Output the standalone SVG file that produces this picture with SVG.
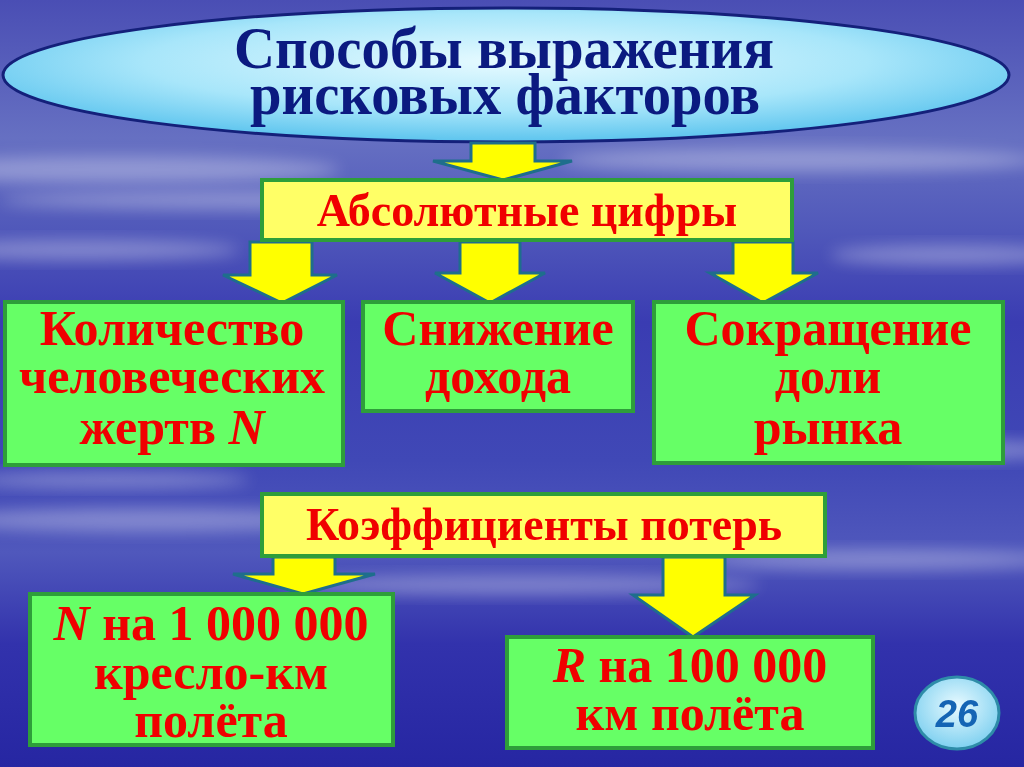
<svg xmlns="http://www.w3.org/2000/svg" width="1024" height="767" viewBox="0 0 1024 767">
<defs>
<linearGradient id="bg" x1="0" y1="0" x2="0" y2="1">
<stop offset="0" stop-color="#4A4EB4"/>
<stop offset="0.18" stop-color="#6670C2"/>
<stop offset="0.3" stop-color="#5058BA"/>
<stop offset="0.42" stop-color="#3A3CB2"/>
<stop offset="0.6" stop-color="#4048B6"/>
<stop offset="0.72" stop-color="#5058BC"/>
<stop offset="0.84" stop-color="#3232AC"/>
<stop offset="1" stop-color="#2626A2"/>
</linearGradient>
<radialGradient id="ell" cx="0.5" cy="0.4" r="0.6">
<stop offset="0" stop-color="#E6FAFF"/>
<stop offset="0.6" stop-color="#A8E6FA"/>
<stop offset="1" stop-color="#5CC4EE"/>
</radialGradient>
<radialGradient id="badge" cx="0.5" cy="0.4" r="0.6">
<stop offset="0" stop-color="#E8FAFF"/>
<stop offset="1" stop-color="#7ED0F0"/>
</radialGradient>
<filter id="blur" x="-20%" y="-50%" width="140%" height="200%"><feGaussianBlur stdDeviation="8"/></filter>
<style>
.box-g{fill:#66FF66;stroke:#2E9E3A;stroke-width:4}
.box-y{fill:#FFFF66;stroke:#2E9E3A;stroke-width:4}
.t{font-family:"Liberation Serif","Times New Roman",serif;font-weight:bold;fill:#F00000;text-anchor:middle}
.h{font-family:"Liberation Serif","Times New Roman",serif;font-weight:bold;fill:#0B1A80;text-anchor:middle;font-size:60px}
.arrow{fill:#FFFF00;stroke:#1E6E8C;stroke-width:3;stroke-linejoin:miter}
.cloud{fill:#FFFFFF;filter:url(#blur)}
</style>
</defs>
<rect width="1024" height="767" fill="url(#bg)"/>
<g id="clouds" opacity="0.32">
<ellipse class="cloud" cx="120" cy="170" rx="220" ry="14"/>
<ellipse class="cloud" cx="300" cy="200" rx="300" ry="10"/>
<ellipse class="cloud" cx="80" cy="250" rx="160" ry="10"/>
<ellipse class="cloud" cx="800" cy="160" rx="240" ry="12"/>
<ellipse class="cloud" cx="950" cy="255" rx="120" ry="10"/>
<ellipse class="cloud" cx="980" cy="450" rx="80" ry="10"/>
<ellipse class="cloud" cx="150" cy="520" rx="200" ry="12"/>
<ellipse class="cloud" cx="520" cy="585" rx="240" ry="10"/>
<ellipse class="cloud" cx="880" cy="560" rx="180" ry="10"/>
<ellipse class="cloud" cx="110" cy="480" rx="140" ry="8"/>
</g>

<g id="title">
<ellipse cx="506" cy="75" rx="503" ry="67" fill="url(#ell)" stroke="#14207A" stroke-width="3"/>
<text class="h" x="504" y="68" textLength="540" lengthAdjust="spacingAndGlyphs">Способы выражения</text>
<text class="h" x="505" y="114" textLength="510" lengthAdjust="spacingAndGlyphs">рисковых факторов</text>
</g>

<g id="connectors">
<polygon class="arrow" points="471,143 535,143 535,161 572,161 503,180 433,161 471,161"/>
<polygon class="arrow" points="250,242 312,242 312,275 337,275 282,303 223,275 250,275"/>
<polygon class="arrow" points="460,242 520,242 520,273 545,273 490,303 435,273 460,273"/>
<polygon class="arrow" points="733,242 793,242 793,273 818,273 763,303 710,273 733,273"/>
<polygon class="arrow" points="273,557 335,557 335,574 375,574 303,594 233,574 273,574"/>
<polygon class="arrow" points="663,557 725,557 725,595 755,595 693,637 633,595 663,595"/>
</g>

<g id="abs">
<rect class="box-y" x="262" y="180" width="530" height="60"/>
<text class="t" x="527" y="226" font-size="46">Абсолютные цифры</text>
</g>

<g id="victims">
<rect class="box-g" x="5" y="302" width="338" height="163"/>
<text class="t" x="172" y="345" font-size="50">Количество</text>
<text class="t" x="172" y="393" font-size="50">человеческих</text>
<text class="t" x="172" y="444" font-size="50">жертв <tspan font-style="italic">N</tspan></text>
</g>

<g id="income">
<rect class="box-g" x="363" y="302" width="270" height="109"/>
<text class="t" x="498" y="345" font-size="50">Снижение</text>
<text class="t" x="498" y="393" font-size="50">дохода</text>
</g>

<g id="market">
<rect class="box-g" x="654" y="302" width="349" height="161"/>
<text class="t" x="828" y="345" font-size="50">Сокращение</text>
<text class="t" x="828" y="393" font-size="50">доли</text>
<text class="t" x="828" y="444" font-size="50">рынка</text>
</g>

<g id="coef">
<rect class="box-y" x="262" y="494" width="563" height="62"/>
<text class="t" x="544" y="540" font-size="46">Коэффициенты потерь</text>
</g>

<g id="per-seat">
<rect class="box-g" x="30" y="594" width="363" height="151"/>
<text class="t" x="211" y="640" font-size="50"><tspan font-style="italic">N</tspan> на 1 000 000</text>
<text class="t" x="211" y="689" font-size="50">кресло-км</text>
<text class="t" x="211" y="737" font-size="50">полёта</text>
</g>

<g id="per-km">
<rect class="box-g" x="507" y="637" width="366" height="111"/>
<text class="t" x="690" y="682" font-size="50"><tspan font-style="italic">R</tspan> на 100 000</text>
<text class="t" x="690" y="730" font-size="50">км полёта</text>
</g>

<g id="page">
<ellipse cx="957" cy="713" rx="42" ry="36" fill="url(#badge)" stroke="#2E8CA8" stroke-width="3"/>
<text x="957" y="727" font-family="'Liberation Sans',Arial,sans-serif" font-weight="bold" font-style="italic" font-size="38" fill="#1464B4" text-anchor="middle">26</text>
</g>
</svg>
